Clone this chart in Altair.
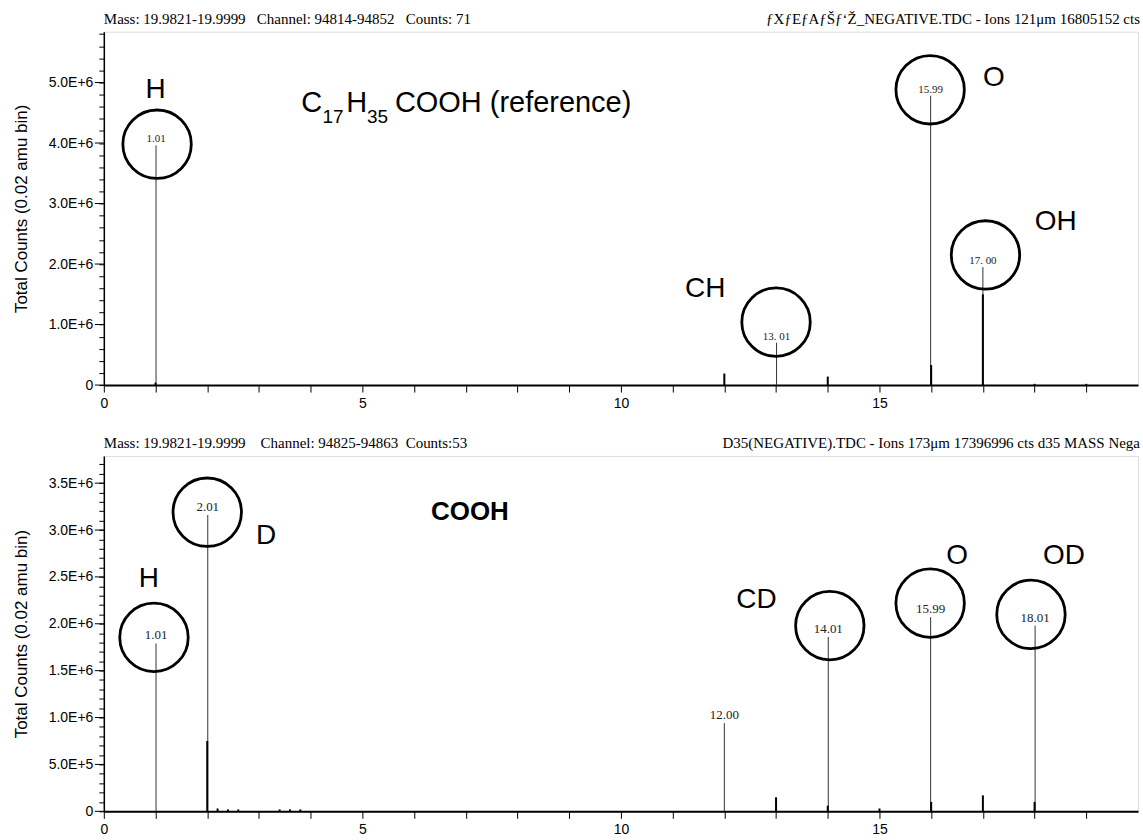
import altair as alt
import pandas as pd

NB = "\u00a0"

# ---------------- top panel (C17H35COOH reference) ----------------
TOP_PEAK_MASS = [1.01, 13.01, 15.99, 17.00]
TOP_PEAK_COUNTS = [3.96e6, 0.70e6, 4.78e6, 1.95e6]
TOP_PEAK_LABELS = ["1.01", "13. 01", "15.99", "17. 00"]
TOP_CIRCLE_X = [1.03, 13.0, 15.98, 17.05]
TOP_CIRCLE_Y = [3.98e6, 1.04e6, 4.88e6, 2.15e6]
TOP_SMALL_MASS = [1.0, 12.0, 14.0, 16.0, 17.0, 18.0, 19.0]
TOP_SMALL_COUNTS = [0.04e6, 0.19e6, 0.14e6, 0.33e6, 1.50e6, 0.02e6, 0.02e6]
TOP_ELEM = ["H", "CH", "O", "OH"]
TOP_ELEM_X = [1.0, 11.63, 17.21, 18.41]
TOP_ELEM_Y = [4.87e6, 1.59e6, 5.08e6, 2.69e6]
FORMULA_TEXT = ["C", "17", "H", "35", "COOH (reference)"]
FORMULA_X = [3.82, 4.23, 4.69, 5.09, 5.63]
FORMULA_Y = [4.52e6, 4.33e6, 4.52e6, 4.33e6, 4.52e6]
FORMULA_SIZE = [29, 19, 29, 19, 29]
TOP_HEADER_LEFT = f"Mass: 19.9821-19.9999{NB*3}Channel: 94814-94852{NB*3}Counts: 71"
TOP_HEADER_RIGHT = "ƒXƒEƒAƒŠƒ‘Ž_NEGATIVE.TDC - Ions 121μm 16805152 cts"
TOP_Y_TICKS = [i * 200000 for i in range(0, 30)]
TOP_Y_MAJOR = [i * 1000000 for i in range(0, 6)]
TOP_Y_MAX = 5.84e6

# ---------------- bottom panel (COOH) ----------------
BOT_PEAK_MASS = [1.01, 2.01, 12.00, 14.01, 15.99, 18.01]
BOT_PEAK_COUNTS = [1.79e6, 3.16e6, 0.94e6, 1.86e6, 2.07e6, 1.98e6]
BOT_PEAK_LABELS = ["1.01", "2.01", "12.00", "14.01", "15.99", "18.01"]
BOT_CIRCLE_X = [0.97, 2.0, 14.04, 15.98, 17.93]
BOT_CIRCLE_Y = [1.855e6, 3.19e6, 1.98e6, 2.22e6, 2.10e6]
BOT_SMALL_MASS = [2.0, 13.0, 14.0, 15.0, 16.0, 17.0, 18.0, 2.2, 2.4, 2.6, 3.4, 3.6, 3.8]
BOT_SMALL_COUNTS = [0.75e6, 0.15e6, 0.06e6, 0.03e6, 0.10e6, 0.17e6, 0.10e6,
                    0.03e6, 0.02e6, 0.02e6, 0.02e6, 0.02e6, 0.02e6]
BOT_ELEM = ["H", "D", "CD", "O", "OD"]
BOT_ELEM_X = [0.87, 3.14, 12.62, 16.5, 18.57]
BOT_ELEM_Y = [2.48e6, 2.94e6, 2.25e6, 2.72e6, 2.72e6]
BOT_TITLE = ["COOH"]
BOT_TITLE_X = [7.08]
BOT_TITLE_Y = [3.19e6]
BOT_HEADER_LEFT = f"Mass: 19.9821-19.9999{NB*4}Channel: 94825-94863{NB*2}Counts:53"
BOT_HEADER_RIGHT = "D35(NEGATIVE).TDC - Ions 173μm 17396996 cts d35 MASS Nega"
BOT_Y_TICKS = [i * 100000 for i in range(0, 38)]
BOT_Y_MAJOR = [i * 500000 for i in range(0, 8)]
BOT_Y_MAX = 3.79e6

X_TICKS = list(range(0, 20))
W = 1036
SANS = "Liberation Sans"
SERIF = "Liberation Serif"

TOP_LABEL_EXPR = ("datum.value == 0 ? '0' : (datum.value % 1000000 == 0 ? "
                  "format(datum.value / 1000000, '.1f') + 'E+6' : '')")
BOT_LABEL_EXPR = ("datum.value == 0 ? '0' : (datum.value % 500000 != 0 ? '' : "
                  "(datum.value < 1000000 ? format(datum.value / 100000, '.1f') + 'E+5' : "
                  "format(datum.value / 1000000, '.1f') + 'E+6'))")


def panel(peak_x, peak_y, peak_lab, cx, cy, small_x, small_y, elem, ex, ey,
          header_left, header_right, yticks, ymajor, ymax, label_expr, height,
          label_size, extra_layers):
    xs = alt.Scale(domain=[0, 20], nice=False, zero=False)
    ys = alt.Scale(domain=[0, ymax], nice=False)
    xaxis = alt.Axis(values=X_TICKS, labelExpr="datum.value % 5 == 0 ? datum.label : ''",
                     title=None, grid=False, tickSize=7, labelPadding=4,
                     labelFont=SANS, labelFontSize=14, labelColor="black",
                     domainColor="black", domainWidth=2, tickColor="black",
                     labelFlush=False, labelOverlap=False)
    yaxis = alt.Axis(values=yticks, labelExpr=label_expr, title="Total Counts (0.02 amu bin)",
                     grid=False, tickSize=5, labelPadding=6, labelFont=SANS,
                     labelFontSize=14, labelColor="black", domainColor="black",
                     domainWidth=1.5, tickColor="black", titleFont=SANS,
                     labelOverlap=False, labelFlush=False,
                     titleFontSize=17, titleFontWeight="normal", titleColor="black",
                     titleX=-82, titleY=height / 2, titleBaseline="middle", titleAngle=-90,
                     titleAlign="center")

    def X(f):
        return alt.X(f, scale=xs, axis=xaxis)

    def Y(f):
        return alt.Y(f, scale=ys, axis=yaxis)

    peaks = pd.DataFrame({"m": peak_x, "c": peak_y, "lab": peak_lab, "z": 0.0})
    smalls = pd.DataFrame({"m": small_x, "c": small_y, "z": 0.0})
    circles = pd.DataFrame({"m": cx, "c": cy})
    elems = pd.DataFrame({"m": ex, "c": ey, "t": elem})

    spikes = alt.Chart(peaks).mark_rule(color="#333333", strokeWidth=1).encode(
        x=X("m:Q"), y=Y("c:Q"), y2="z:Q")
    small = alt.Chart(smalls).mark_rule(color="black", strokeWidth=2).encode(
        x=X("m:Q"), y=Y("c:Q"), y2="z:Q")
    rings = alt.Chart(circles).mark_point(shape="circle", filled=False, size=4700,
                                          strokeWidth=2.8, color="black", opacity=1).encode(
        x=X("m:Q"), y=Y("c:Q"))
    plabels = alt.Chart(peaks).mark_text(font=SERIF, fontSize=label_size, color="#222222",
                                         baseline="bottom", dy=-1).encode(
        x=X("m:Q"), y=Y("c:Q"), text="lab:N")
    elabels = alt.Chart(elems).mark_text(font=SANS, fontSize=28, color="black",
                                         baseline="middle").encode(
        x=X("m:Q"), y=Y("c:Q"), text="t:N")
    ymaj = alt.Chart(pd.DataFrame({"c": ymajor})).mark_rule(color="black", strokeWidth=1).encode(
        y=Y("c:Q"), x=alt.value(-9), x2=alt.value(0))
    hl = alt.Chart(pd.DataFrame({"t": [header_left]})).mark_text(
        font=SERIF, fontSize=15, color="black", align="left", baseline="middle").encode(
        x=alt.value(0), y=alt.value(-13), text="t:N")
    hr = alt.Chart(pd.DataFrame({"t": [header_right]})).mark_text(
        font=SERIF, fontSize=15, color="black", align="right", baseline="middle").encode(
        x=alt.value(W + 2), y=alt.value(-13), text="t:N")

    layers = [spikes, small, rings, plabels, elabels, ymaj, hl, hr] + extra_layers(X, Y)
    return alt.layer(*layers).properties(width=W, height=height)


def top_extra(X, Y):
    f = pd.DataFrame({"m": FORMULA_X, "c": FORMULA_Y, "t": FORMULA_TEXT, "s": FORMULA_SIZE})
    return [alt.Chart(f).mark_text(font=SANS, color="black", align="left",
                                   baseline="alphabetic").encode(
        x=X("m:Q"), y=Y("c:Q"), text="t:N",
        size=alt.Size("s:Q", scale=None, legend=None))]


def bot_extra(X, Y):
    f = pd.DataFrame({"m": BOT_TITLE_X, "c": BOT_TITLE_Y, "t": BOT_TITLE})
    return [alt.Chart(f).mark_text(font=SANS, fontSize=26, fontWeight="bold", color="black",
                                   baseline="middle").encode(
        x=X("m:Q"), y=Y("c:Q"), text="t:N")]


top = panel(TOP_PEAK_MASS, TOP_PEAK_COUNTS, TOP_PEAK_LABELS, TOP_CIRCLE_X, TOP_CIRCLE_Y,
            TOP_SMALL_MASS, TOP_SMALL_COUNTS, TOP_ELEM, TOP_ELEM_X, TOP_ELEM_Y,
            TOP_HEADER_LEFT, TOP_HEADER_RIGHT, TOP_Y_TICKS, TOP_Y_MAJOR, TOP_Y_MAX,
            TOP_LABEL_EXPR, 354, 11, top_extra)
bot = panel(BOT_PEAK_MASS, BOT_PEAK_COUNTS, BOT_PEAK_LABELS, BOT_CIRCLE_X, BOT_CIRCLE_Y,
            BOT_SMALL_MASS, BOT_SMALL_COUNTS, BOT_ELEM, BOT_ELEM_X, BOT_ELEM_Y,
            BOT_HEADER_LEFT, BOT_HEADER_RIGHT, BOT_Y_TICKS, BOT_Y_MAJOR, BOT_Y_MAX,
            BOT_LABEL_EXPR, 356, 13, bot_extra)

chart = alt.vconcat(top, bot, spacing=24).properties(
    padding={"left": 12, "top": 10, "right": 2, "bottom": 2}
).configure_view(stroke="black", strokeWidth=1.5).configure(background="white")

chart.save("out.html", embed_options={"renderer": "svg", "actions": False})
